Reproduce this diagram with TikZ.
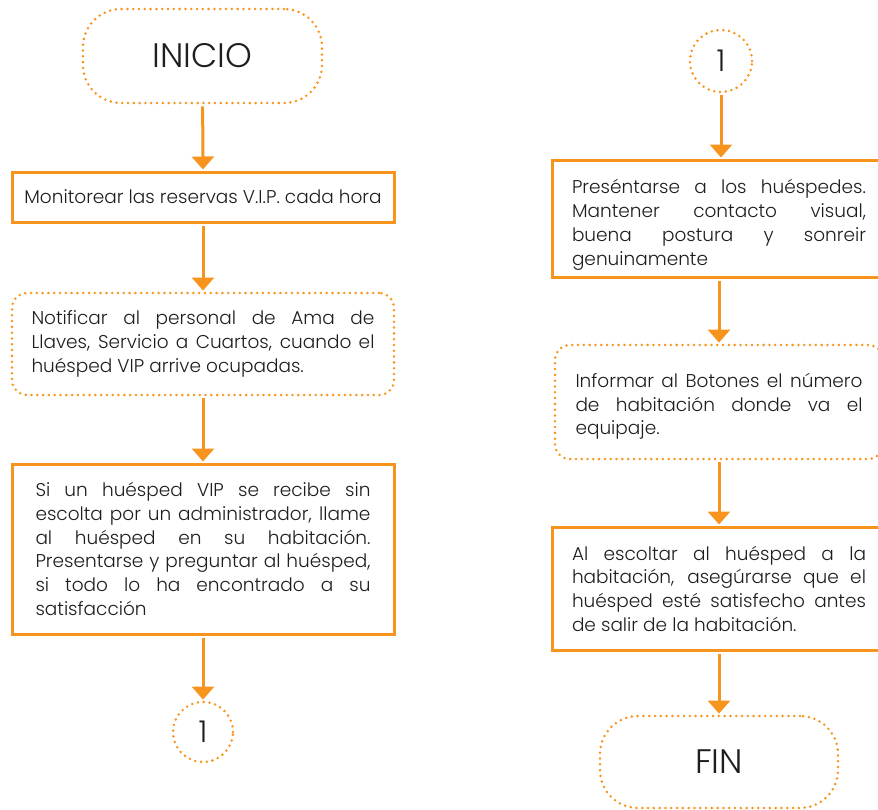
\documentclass[tikz,border=0pt]{standalone}
\usepackage{fontspec}
\setmainfont{Poppins}[UprightFont=* Light]
\usetikzlibrary{arrows.meta}
\definecolor{naranja}{HTML}{F7941D}
\definecolor{tinta}{HTML}{1E1E1E}
\hyphenpenalty=10000

\begin{document}
\begin{tikzpicture}[x=1pt,y=-1pt,
  flow/.style={draw=naranja, line width=3pt, -{Triangle[width=22pt,length=13pt]}, shorten <=2pt, shorten >=1pt},
  bodytext/.style={text=tinta, font=\fontsize{18.5}{23.7}\selectfont, align=justify},
  solidbox/.style={draw=naranja, line width=3pt, rectangle, inner sep=0pt, bodytext},
  dotline/.style={draw=naranja, line width=2.8pt, line cap=round, dash pattern=on 0pt off 5.8pt},
  dotbox/.style={dotline, rectangle, rounded corners=15pt, inner sep=0pt, bodytext},
  terminal/.style={dotline, rectangle, rounded corners=38pt, inner sep=0pt, text=tinta, font=\fontsize{34}{40}\selectfont},
  connector/.style={dotline, circle, minimum size=60pt, inner sep=0pt, text=tinta, font=\fontsize{30}{32}\selectfont}]

\useasboundingbox (0,0) rectangle (878,809);
\clip (0,0) rectangle (878,809);

% left column
\node[terminal, minimum width=239pt, minimum height=94pt] (inicio) at (202.5,56) {INICIO};
\node[solidbox, minimum width=382pt, minimum height=50pt, align=center] (b1) at (203,197) {Monitorear las reservas V.I.P. cada hora};
\node[dotbox, minimum width=382pt, minimum height=102pt, text width=343pt] (b2) at (203,344)
  {Notificar al personal de Ama de\linebreak Llaves, Servicio a Cuartos, cuando el\linebreak huésped VIP arrive ocupadas.};
\node[solidbox, minimum width=382pt, minimum height=170pt, text width=335pt] (b3) at (203,549)
  {Si un huésped VIP se recibe sin\linebreak escolta por un administrador, llame\linebreak al huésped en su habitación.\linebreak Presentarse y preguntar al huésped,\linebreak si todo lo ha encontrado a su\linebreak satisfacción};
\node[connector] (c1) at (203,732) {1};

% right column (a taller strut on the first line lowers the text block)
\node[connector, minimum size=62pt] (c2) at (721,61) {1};
\node[solidbox, minimum width=334pt, minimum height=117pt, text width=294pt] (b4) at (719,218.5)
  {\rule{0pt}{27pt}Preséntarse a los huéspedes.\linebreak Mantener contacto visual,\linebreak buena postura y sonreir\linebreak genuinamente};
\node[dotbox, minimum width=328pt, minimum height=114pt, text width=287pt] (b5) at (719,402)
  {\rule{0pt}{23pt}Informar al Botones el número\linebreak de habitación donde va el\linebreak equipaje.};
\node[solidbox, minimum width=334pt, minimum height=123pt, text width=294pt] (b6) at (719,588.5)
  {Al escoltar al huésped a la\linebreak habitación, asegúrarse que el\linebreak huésped esté satisfecho antes\linebreak de salir de la habitación.};
\node[terminal, minimum width=238pt, minimum height=92pt] (fin) at (719,762) {FIN};

% connectors
\draw[flow] (inicio) -- (b1);
\draw[flow] (b1) -- (b2);
\draw[flow] (b2) -- (b3);
\draw[flow] (b3) -- (c1);
\draw[flow] (c2.south) -- (c2.south |- b4.north);
\draw[flow] (b4.south) -- (b4.south |- b5.north);
\draw[flow] (b5) -- (b6);
\draw[flow] (b6) -- (fin);
\end{tikzpicture}
\end{document}
